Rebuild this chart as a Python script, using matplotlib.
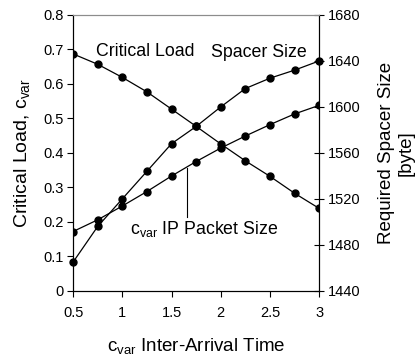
import matplotlib
matplotlib.use('Agg')
from matplotlib import pyplot as plt

plt.rcParams['font.family'] = ['Liberation Sans', 'DejaVu Sans']
plt.rcParams['mathtext.fontset'] = 'custom'
plt.rcParams['mathtext.rm'] = 'Liberation Sans'

cvar_arrival = [0.5, 0.75, 1.0, 1.25, 1.5, 1.75, 2.0, 2.25, 2.5, 2.75, 3.0]
critical_load = [0.687, 0.657, 0.619, 0.577, 0.527, 0.477, 0.426, 0.377, 0.332, 0.283, 0.239]
cvar_ip_packet = [0.172, 0.206, 0.246, 0.288, 0.333, 0.375, 0.414, 0.449, 0.482, 0.513, 0.538]
spacer_size = [1465, 1496, 1520, 1544, 1568, 1583, 1600, 1616, 1625, 1632, 1640]

fig = plt.figure(figsize=(4.2, 3.56), dpi=100)
ax = fig.add_axes([0.174, 0.183, 0.586, 0.775])
ax2 = ax.twinx()

style = dict(color='black', lw=0.9, marker='o', ms=5)
ax.plot(cvar_arrival, critical_load, **style)
ax.plot(cvar_arrival, cvar_ip_packet, **style)
ax2.plot(cvar_arrival, spacer_size, clip_on=False, **style)

ax.set_xlim(0.5, 3)
ax.set_ylim(0, 0.8)
ax2.set_ylim(1440, 1680)
ax.set_xticks([0.5, 1, 1.5, 2, 2.5, 3])
ax.set_xticklabels(['0.5', '1', '1.5', '2', '2.5', '3'])
ax.set_yticks([0, 0.1, 0.2, 0.3, 0.4, 0.5, 0.6, 0.7, 0.8])
ax.set_yticklabels(['0', '0.1', '0.2', '0.3', '0.4', '0.5', '0.6', '0.7', '0.8'])
ax2.set_yticks(range(1440, 1681, 40))

ax.tick_params(axis='y', direction='out', length=4, width=0.8, labelsize=10.5, pad=3)
ax.tick_params(axis='x', direction='out', length=4, width=0.8, labelsize=10.5, pad=7)
ax2.tick_params(direction='inout', length=7, width=0.8, labelsize=10.5, pad=3)

for a in (ax, ax2):
    a.spines['top'].set_color('#8c8c8c')
    a.spines['left'].set_color('black')
    a.spines['right'].set_color('black')
    a.spines['bottom'].set_color('black')

ax.set_ylabel('Critical Load, c$_\\mathregular{var}$', fontsize=14, labelpad=7)
ax2.set_ylabel('Required Spacer Size\n[byte]', fontsize=13.5, labelpad=12,
               rotation=90, linespacing=1.25)
ax.set_xlabel('c$_\\mathregular{var}$ Inter-Arrival Time', fontsize=13.5, labelpad=12)

ax.text(1.23, 0.694, 'Critical Load', fontsize=12.8, ha='center', va='center')
ax.text(2.385, 0.692, 'Spacer Size', fontsize=12.8, ha='center', va='center')
ax.text(1.83, 0.18, 'c$_\\mathregular{var}$ IP Packet Size', fontsize=12.8, ha='center', va='center')
ax.plot([1.655, 1.655], [0.215, 0.357], color='black', lw=0.8)

fig.savefig('out.png', dpi=100)
